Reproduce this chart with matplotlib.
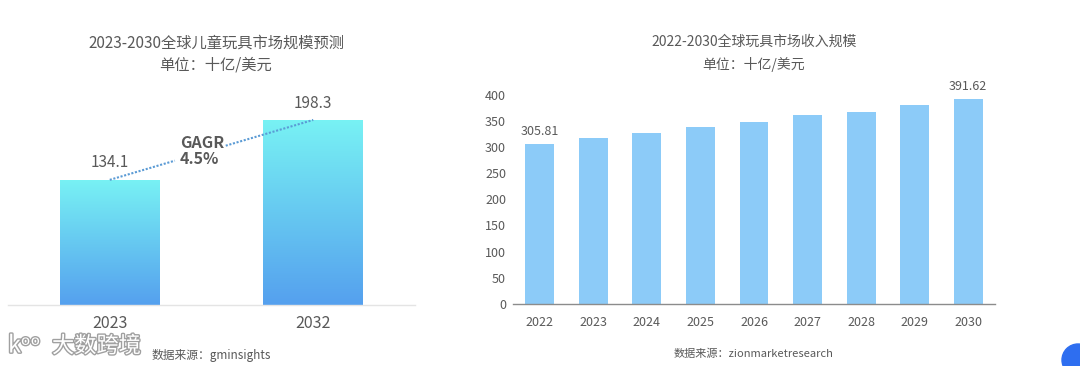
import numpy as np
import matplotlib.pyplot as plt
import matplotlib.patheffects as pe
from matplotlib.colors import LinearSegmentedColormap
from matplotlib.patches import Ellipse

plt.rcParams['font.family'] = ['Noto Sans CJK SC', 'DejaVu Sans']

# left chart data
kids_years = ['2023', '2032']
kids_values = [134.1, 198.3]
cagr_text = 'GAGR\n4.5%'

# right chart data
toy_years = ['2022', '2023', '2024', '2025', '2026', '2027', '2028', '2029', '2030']
toy_values = [305.81, 316, 327, 337, 347, 360, 366, 380, 391.62]
toy_labels = {0: '305.81', 8: '391.62'}

W, H = 1080, 366
fig = plt.figure(figsize=(W / 100, H / 100), dpi=100)
txt = '#595959'


def box(x0, y0, x1, y1):
    # pixel box (top-left origin) -> figure fraction rect
    return [x0 / W, 1 - y1 / H, (x1 - x0) / W, (y1 - y0) / H]


# ---- left chart ----
ax1 = fig.add_axes(box(8, 81, 415, 305))
x1 = np.arange(len(kids_values))
bw = 0.49
grad = LinearSegmentedColormap.from_list('g', ['#55a0ee', '#78f2f4'])
bars = ax1.bar(x1, kids_values, width=bw, color='none')
for b in bars:
    x0, h = b.get_x(), b.get_height()
    im = ax1.imshow(np.linspace(0, 1, 256).reshape(-1, 1), cmap=grad, origin='lower',
                    extent=[x0, x0 + bw, 0, h], aspect='auto', zorder=2)
    im.set_clip_path(b)
ax1.set_xlim(-0.5, 1.5)
ax1.set_ylim(0, 240)
for xi, v in zip(x1, kids_values):
    ax1.text(xi, v + 9, f'{v:.1f}', ha='center', va='bottom', fontsize=11, color=txt)

# dotted cagr line between bar tops, broken around the label
p0 = np.array([x1[0], kids_values[0]])
p1 = np.array([x1[1], kids_values[1]])
for t0, t1 in [(0, 0.32), (0.57, 1.0)]:
    a = p0 + (p1 - p0) * t0
    b = p0 + (p1 - p0) * t1
    ax1.plot([a[0], b[0]], [a[1], b[1]], ls=(0, (1, 0.8)), lw=1.5, color='#5b9bd5', zorder=3)
ax1.text(0.345, 165, cagr_text, ha='left', va='center', fontsize=11.5, multialignment='left',
         fontweight='bold', color=txt, linespacing=1.05)

ax1.set_xticks(x1)
ax1.set_xticklabels(kids_years, fontsize=11.5, color=txt)
ax1.tick_params(axis='x', length=0, pad=7)
ax1.set_yticks([])
for s in ['top', 'right', 'left']:
    ax1.spines[s].set_visible(False)
ax1.spines['bottom'].set_color('#e4e4e4')
ax1.spines['bottom'].set_linewidth(1)

fig.text(216 / W, 1 - 43 / H, '2023-2030全球儿童玩具市场规模预测', ha='center', va='center',
         fontsize=11, color=txt)
fig.text(216 / W, 1 - 65 / H, '单位：十亿/美元', ha='center', va='center', fontsize=11, color=txt)
fig.text(152 / W, 1 - 355 / H, '数据来源：gminsights', ha='left', va='center', fontsize=8.5, color=txt)

# ---- right chart ----
ax2 = fig.add_axes(box(513, 94.5, 995, 304))
x2 = np.arange(len(toy_values))
ax2.bar(x2, toy_values, width=0.54, color='#8ccbf8', zorder=2)
ax2.set_xlim(-0.5, 8.5)
ax2.set_ylim(0, 400)
ax2.set_yticks(np.arange(0, 401, 50))
ax2.set_xticks(x2)
ax2.set_xticklabels(toy_years)
ax2.tick_params(axis='both', length=0, labelsize=9, labelcolor=txt)
ax2.tick_params(axis='x', pad=9)
ax2.tick_params(axis='y', pad=5)
for i, lab in toy_labels.items():
    ax2.text(x2[i], toy_values[i] + 12, lab, ha='center', va='bottom', fontsize=9, color=txt)
for s in ['top', 'right', 'left']:
    ax2.spines[s].set_visible(False)
ax2.spines['bottom'].set_color('#8c8c8c')
ax2.spines['bottom'].set_linewidth(1)

fig.text(754 / W, 1 - 42 / H, '2022-2030全球玩具市场收入规模', ha='center', va='center',
         fontsize=10, color=txt)
fig.text(754 / W, 1 - 64 / H, '单位：十亿/美元', ha='center', va='center', fontsize=10, color=txt)
fig.text(754 / W, 1 - 354 / H, '数据来源：zionmarketresearch', ha='center', va='center',
         fontsize=8, color=txt)

# ---- watermark and corner badge ----
wm = [pe.withStroke(linewidth=2, foreground='#a0a0a0')]
fig.text(8 / W, 1 - 346 / H, 'kᵒᵒ', ha='left', va='center', fontsize=17, color='white',
         path_effects=wm)
fig.text(52 / W, 1 - 346 / H, '大数跨境', ha='left', va='center', fontsize=16, color='white',
         path_effects=wm)
fig.patches.append(Ellipse((1078 / W, 1 - 360 / H), 32 / W, 32 / H, transform=fig.transFigure,
                           color='#2e6ef0', zorder=5))

fig.savefig('out.png', dpi=100)
